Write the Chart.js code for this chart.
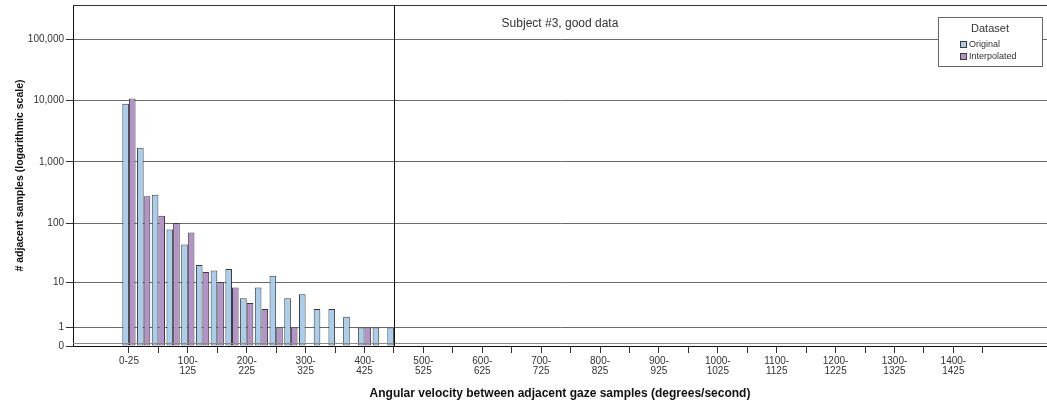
<!DOCTYPE html>
<html>
<head>
<meta charset="utf-8">
<script src="https://cdn.jsdelivr.net/npm/chart.js@4.4.1/dist/chart.umd.min.js"></script>
<style>
  html, body { margin: 0; padding: 0; background: #fff; }
</style>
</head>
<body>
<canvas id="chart" width="1047" height="404"></canvas>
<script>
// velocity bins, 25 deg/s wide
const bins = [
    '0-25', '25-50', '50-75', '75-100', '100-125', '125-150', '150-175', '175-200',
    '200-225', '225-250', '250-275', '275-300', '300-325', '325-350', '350-375', '375-400',
    '400-425', '425-450', '450-475', '475-500', '500-525', '525-550', '550-575', '575-600',
    '600-625', '625-650', '650-675', '675-700', '700-725', '725-750', '750-775', '775-800',
    '800-825', '825-850', '850-875', '875-900', '900-925', '925-950', '950-975', '975-1000',
    '1000-1025', '1025-1050', '1050-1075', '1075-1100', '1100-1125', '1125-1150', '1150-1175', '1175-1200',
    '1200-1225', '1225-1250', '1250-1275', '1275-1300', '1300-1325', '1325-1350', '1350-1375', '1375-1400',
    '1400-1425', '1425-1450', '1450-1475', '1475-1500'
];

// counts per bin (bins not listed are empty)
const original = [8900, 1700, 290, 78, 44, 20, 16, 17, 5, 8, 13, 5, 6, 3, 3, 2, 1, 1, 1];
const interpolated = [10800, 275, 132, 100, 70, 15, 10, 8, 4, 3, 1, 1, 0, 0, 0, 0, 1, 0, 0];

const yTicks = [0, 1, 10, 100, 1000, 10000, 100000];
const refLineBin = '450-475';
const note = 'Subject #3, good data';

const FONT = "'Liberation Sans', Arial, sans-serif";
const INK = '#333333';

// log10(n + 1) so that empty bins and 1 both fit on the axis
const logv = v => Math.log10(v + 1);
const toPoints = arr => arr.map((v, i) => ({ x: i, y: logv(v) }));

const extras = {
    id: 'extras',
    afterDatasetsDraw(chart) {
        const { ctx, chartArea: a, scales } = chart;
        ctx.save();

        // top frame + faint line just above the axis
        ctx.strokeStyle = INK;
        ctx.lineWidth = 1;
        ctx.beginPath();
        ctx.moveTo(a.left, Math.round(a.top) + 0.5);
        ctx.lineTo(a.right, Math.round(a.top) + 0.5);
        ctx.stroke();

        ctx.strokeStyle = '#8a8a8a';
        ctx.beginPath();
        ctx.moveTo(a.left, Math.round(a.bottom) - 2.5);
        ctx.lineTo(a.right, Math.round(a.bottom) - 2.5);
        ctx.stroke();

        // reference line
        const rx = Math.round(scales.x.getPixelForValue(bins.indexOf(refLineBin))) + 0.5;
        ctx.strokeStyle = '#111';
        ctx.beginPath();
        ctx.moveTo(rx, a.top);
        ctx.lineTo(rx, a.bottom);
        ctx.stroke();

        // note at top
        ctx.fillStyle = INK;
        ctx.font = '12px ' + FONT;
        ctx.textAlign = 'center';
        ctx.textBaseline = 'middle';
        ctx.fillText(note, (a.left + a.right) / 2, a.top + 19);

        // legend box
        const bx = a.right - 109, by = a.top + 12, bw = 104, bh = 49;
        ctx.fillStyle = '#fff';
        ctx.fillRect(bx, by, bw, bh);
        ctx.strokeStyle = '#666';
        ctx.strokeRect(bx + 0.5, by + 0.5, bw, bh);
        ctx.fillStyle = INK;
        ctx.font = '11px ' + FONT;
        ctx.fillText('Dataset', bx + bw / 2, by + 12);

        ctx.textAlign = 'left';
        ctx.font = '9px ' + FONT;
        chart.data.datasets.forEach((ds, i) => {
            const sy = by + 24 + i * 12;
            ctx.fillStyle = ds.backgroundColor;
            ctx.fillRect(bx + 22, sy, 7, 7);
            ctx.strokeStyle = ds.borderColor;
            ctx.strokeRect(bx + 22.5, sy + 0.5, 6, 6);
            ctx.fillStyle = INK;
            ctx.fillText(ds.label, bx + 31, sy + 4);
        });
        ctx.restore();
    }
};

new Chart(document.getElementById('chart'), {
    type: 'bar',
    data: {
        datasets: [{
            label: 'Original',
            data: toPoints(original),
            backgroundColor: '#a9cdec',
            borderColor: '#3c3c3c',
            borderWidth: 1,
            borderSkipped: false
        }, {
            label: 'Interpolated',
            data: toPoints(interpolated),
            backgroundColor: '#b393c8',
            borderColor: '#3c3c3c',
            borderWidth: 1,
            borderSkipped: false
        }]
    },
    options: {
        responsive: false,
        animation: false,
        layout: { padding: { top: 5, right: 0, bottom: 0, left: 0 } },
        datasets: { bar: { categoryPercentage: 0.9, barPercentage: 1.0 } },
        plugins: { legend: { display: false }, tooltip: { enabled: false } },
        scales: {
            x: {
                type: 'linear',
                min: -3.8,
                max: 62.36,
                offset: false,
                afterBuildTicks: s => {
                    s.ticks = bins.map((b, i) => ({ value: i })).filter(t => t.value % 2 === 0);
                },
                afterFit: s => {
                    s.height = 58;
                    s.paddingLeft = 0;
                    s.paddingRight = 0;
                },
                ticks: {
                    autoSkip: false,
                    maxRotation: 0,
                    padding: 3,
                    color: INK,
                    font: { family: FONT, size: 10, lineHeight: 1 },
                    callback: v => {
                        if (v % 4 !== 0) return '';
                        const lab = bins[v];
                        if (lab.length <= 4) return lab;
                        const p = lab.split('-');
                        return [p[0] + '-', p[1]];
                    }
                },
                grid: { offset: false, drawOnChartArea: false, drawTicks: true, tickLength: 7, tickColor: INK },
                border: { color: '#111' },
                title: {
                    display: true,
                    text: 'Angular velocity between adjacent gaze samples (degrees/second)',
                    color: '#111',
                    font: { family: FONT, size: 12, weight: 'bold' },
                    padding: { top: 0, bottom: 3 }
                }
            },
            y: {
                type: 'linear',
                min: 0,
                max: 5.558,
                afterBuildTicks: s => {
                    s.ticks = yTicks.map(t => ({ value: logv(t) }));
                },
                afterFit: s => {
                    s.width = 73;
                    s.paddingTop = 0;
                    s.paddingBottom = 0;
                },
                ticks: {
                    color: INK,
                    padding: 2,
                    font: { family: FONT, size: 10 },
                    callback: (v, i) => yTicks[i].toLocaleString('en-US')
                },
                grid: { color: '#6a6a6a', tickLength: 7, tickColor: INK },
                border: { color: '#111' },
                title: {
                    display: true,
                    text: '# adjacent samples (logarithmic scale)',
                    color: '#111',
                    font: { family: FONT, size: 10.5, weight: 'bold' },
                    padding: { top: 14, bottom: 0 }
                }
            }
        }
    },
    plugins: [extras]
});
</script>
</body>
</html>
